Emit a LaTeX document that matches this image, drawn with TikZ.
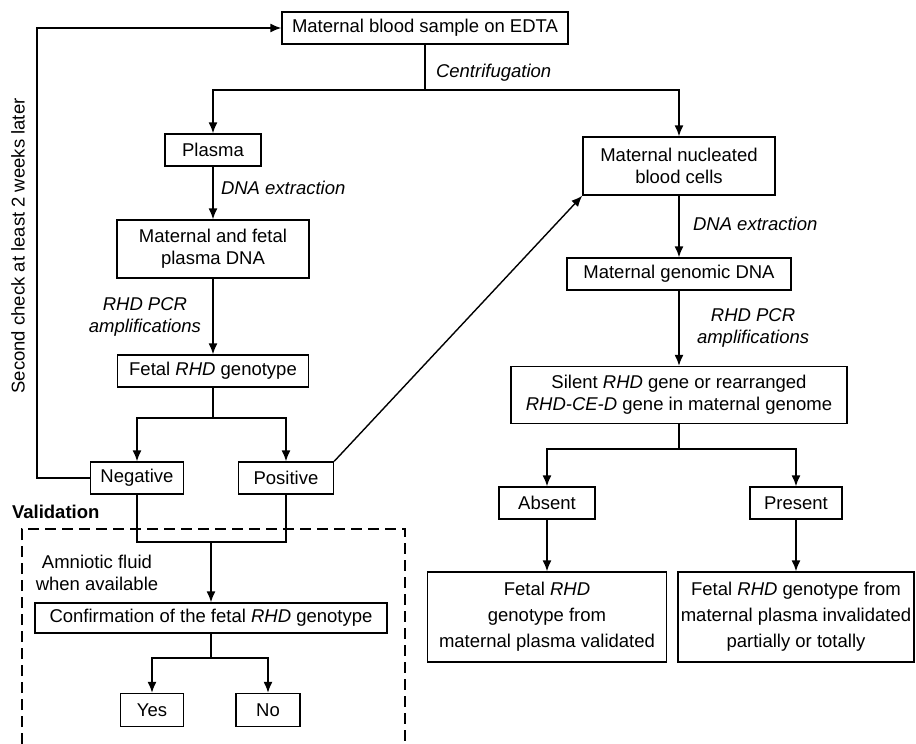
\documentclass[tikz,border=0pt]{standalone}
\usepackage{fontspec}
\setmainfont{Liberation Sans}
\usetikzlibrary{shapes,arrows.meta,positioning}

\begin{document}
\begin{tikzpicture}[x=1pt, y=-1pt, >={Latex[length=11pt,width=9pt]}, line width=1.4pt,
    every node/.style={font=\fontsize{18.5}{22}\selectfont},
    block/.style={draw, rectangle, align=center, inner sep=0pt},
    lbl/.style={font=\fontsize{18.5}{22}\selectfont\itshape, align=center}]
    \useasboundingbox (0,0) rectangle (916,744);
    % left column
    \node [block, minimum width=286pt, minimum height=32pt] (sample) at (425,28) {Maternal blood sample on EDTA};
    \node [block, minimum width=96pt, minimum height=32pt] (plasma) at (213,150) {Plasma};
    \node [block, minimum width=192pt, minimum height=58pt] (mfdna) at (213,249) {Maternal and fetal\\plasma DNA};
    \node [block, minimum width=191pt, minimum height=32pt] (fgeno) at (213,371) {Fetal \textit{RHD} genotype};
    \node [block, minimum width=93pt, minimum height=32pt] (neg) at (137,478) {Negative};
    \node [block, minimum width=95pt, minimum height=32pt] (pos) at (286,478) {Positive};
    % right column
    \node [block, minimum width=192pt, minimum height=58pt] (cells) at (679,166) {Maternal nucleated\\blood cells};
    \node [block, minimum width=224pt, minimum height=32pt] (gdna) at (679,274) {Maternal genomic DNA};
    \node [block, minimum width=336pt, minimum height=57pt] (silent) at (679,395) {Silent \textit{RHD} gene or rearranged\\\textit{RHD-CE-D} gene in maternal genome};
    \node [block, minimum width=96pt, minimum height=32pt] (absent) at (547,503) {Absent};
    \node [block, minimum width=92pt, minimum height=32pt] (present) at (796,503) {Present};
    \node [block, minimum width=239pt, minimum height=90pt, font=\fontsize{18.5}{26}\selectfont] (valid) at (547,617) {Fetal \textit{RHD}\\genotype from\\maternal plasma validated};
    \node [block, minimum width=236pt, minimum height=90pt, font=\fontsize{18.5}{26}\selectfont] (invalid) at (796,617) {Fetal \textit{RHD} genotype from\\maternal plasma invalidated\\partially or totally};
    % validation
    \node [block, minimum width=352pt, minimum height=30pt] (confirm) at (211,618) {Confirmation of the fetal \textit{RHD} genotype};
    \node [block, minimum width=63pt, minimum height=33pt] (yes) at (152,710) {Yes};
    \node [block, minimum width=64pt, minimum height=33pt] (no) at (268,710) {No};

    \coordinate (split1) at (425,90);
    \coordinate (split2) at (213,418);
    \coordinate (split3) at (679,449);
    \coordinate (join) at (211,542);
    \coordinate (split4) at (211,658);
    \coordinate (loop) at (37,478);

    \draw (sample) -- (split1);
    \node [lbl, anchor=west] (centri) at (432,73) {Centrifugation};
    \draw [->] (split1) -| (plasma);
    \draw [->] (split1) -| (cells);
    \draw [->] (plasma) -- node[lbl, right=4pt, pos=0.4] {DNA extraction} (mfdna);
    \draw [->] (mfdna) -- node[lbl, left=8pt] {\textit{RHD} PCR\\amplifications} (fgeno);
    \draw (fgeno) -- (split2);
    \draw [->] (split2) -| (neg);
    \draw [->] (split2) -| (pos);
    \draw [->] (neg.west) -- (loop) |- (sample);
    \node [rotate=90] (second) at (18,246) {Second check at least 2 weeks later};
    \draw [->] (pos.north east) -- (cells.south west);

    \draw [->] (cells) -- node[lbl, right=10pt, pos=0.45] {DNA extraction} (gdna);
    \draw [->] (gdna) -- node[lbl, right=14pt] {\textit{RHD} PCR\\amplifications} (silent);
    \draw (silent) -- (split3);
    \draw [->] (split3) -| (absent);
    \draw [->] (split3) -| (present);
    \draw [->] (absent) -- (valid);
    \draw [->] (present) -- (invalid);

    % validation frame
    \node [anchor=west, font=\fontsize{18.5}{22}\selectfont\bfseries] (vtitle) at (8,512) {Validation};
    \draw [line width=1.2pt, dash pattern=on 11pt off 6pt] (22,744) -- (22,529) -- (405,529) -- (405,744);
    \draw (neg) |- (join);
    \draw (pos) |- (join);
    \draw [->] (join) -- (confirm);
    \node [align=center] (amnio) at (97,573) {Amniotic fluid\\when available};
    \draw (confirm) -- (split4);
    \draw [->] (split4) -| (yes);
    \draw [->] (split4) -| (no);
\end{tikzpicture}
\end{document}
